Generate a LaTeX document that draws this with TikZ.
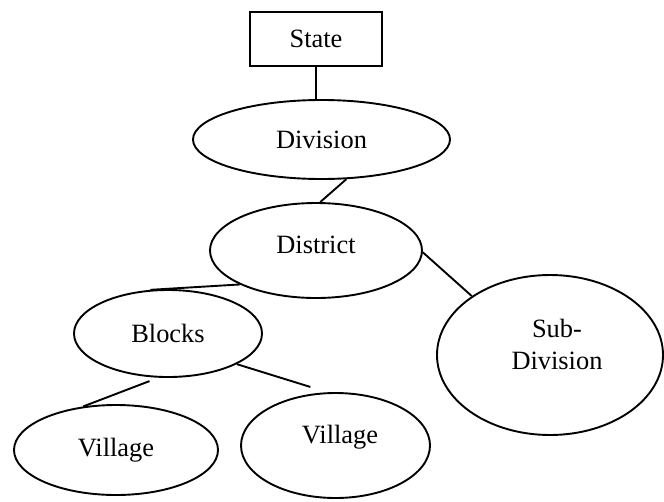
\documentclass[tikz,border=0pt]{standalone}
\usepackage{fontspec}
\setmainfont{Liberation Serif}
\usetikzlibrary{shapes.geometric}
\begin{document}
\begin{tikzpicture}[x=1pt,y=-1pt,
  every node/.style={font=\fontsize{26.4}{32}\selectfont, inner sep=0pt},
  box/.style={draw, line width=1.9pt, minimum width=132pt, minimum height=54pt},
  oval/.style={draw, ellipse, line width=1.9pt},
  link/.style={line width=1.9pt}]
  \useasboundingbox (0,0) rectangle (664,501);

  % hierarchy levels
  \node[box] (state) at (316,39) {State};
  \node[oval, minimum width=257pt, minimum height=79pt] (division) at (321.5,139.5) {Division};
  \node[oval, minimum width=212pt, minimum height=95pt,
        label={[yshift=5.5pt]center:District}] (district) at (316,250.5) {};
  \node[oval, minimum width=188pt, minimum height=87pt] (blocks) at (168,333.5) {Blocks};
  \node[oval, minimum width=226pt, minimum height=160pt,
        label={[xshift=7pt,yshift=11pt,align=center]center:Sub-\\Division}] (subdiv) at (550,355) {};
  \node[oval, minimum width=204pt, minimum height=90pt] (villageA) at (116,450) {Village};
  \node[oval, minimum width=189pt, minimum height=105pt,
        label={[xshift=4.5pt,yshift=8.5pt]center:Village}] (villageB) at (335.5,445.5) {};

  % connectors
  \draw[link] (state.south) -- (state.south |- division.north);
  \draw[link] (division.-58) -- (district.85);
  \draw[link] (district.204.4) -- (blocks.112.5);
  \draw[link] (district.-1) -- (subdiv.143.8);
  \draw[link] ([yshift=-4pt]blocks.247.6) -- (villageA.127);
  \draw[link] (blocks.-24.5) -- ([yshift=7pt]villageB.116.4);
\end{tikzpicture}
\end{document}
